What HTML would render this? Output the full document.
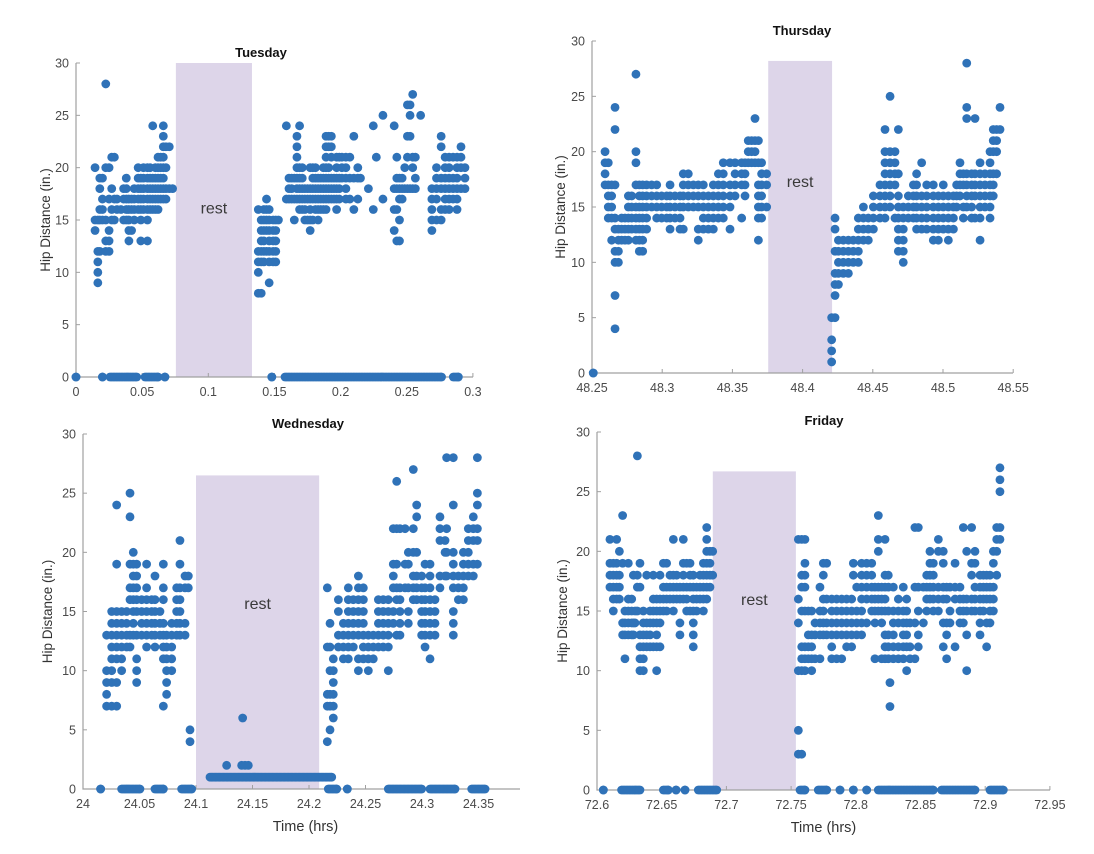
<!DOCTYPE html>
<html><head><meta charset="utf-8"><style>
html,body{margin:0;padding:0;background:#fff;}
svg{display:block;font-family:"Liberation Sans",Arial,sans-serif;}
</style></head><body>
<svg id="chart" width="1094" height="854" viewBox="0 0 1094 854" xmlns="http://www.w3.org/2000/svg"></svg>
<script>
// ===== Tuesday data =====
const tueTimes=[0.0144,0.0165,0.018,0.020,0.0225,0.025,0.027,0.029,0.031,0.034,0.036,0.038,0.040,0.042,0.044,0.047,0.049,0.051,0.054,0.056,0.058,0.060,0.062,0.064,0.066,0.068,0.0705,0.073,
0.1378,0.140,0.142,0.144,0.146,0.149,0.151,0.153,0.159,0.161,0.163,0.165,0.167,0.169,0.171,0.173,0.175,0.177,0.179,0.181,0.183,0.185,0.187,0.189,0.191,0.193,0.195,0.197,0.199,0.201,0.204,0.207,0.210,0.213,0.215,0.221,0.2247,0.227,0.232,0.2405,0.2425,0.2445,0.2465,0.2485,0.2505,0.2525,0.2545,0.2565,0.2605,0.269,0.2725,0.276,0.279,0.282,0.285,0.288,0.291,0.294];
const tueValues=[[20,15,14],[15,11,10,9,12],[19,18,16,15,12],[19,17,16,15],[28,20,15,13,12],[20,17,14,13,12],[18,16,15,21],[21,17,15],[17,16],[16],[18,17,15],[19,18,17,16,15],[17,16,15,14,13],[17,16,14],[18,17,16,15],[20,19,18,17,16],[19,18,17,16,15,13],[20,19,18,17,16],[20,19,18,17,16,15,13],[20,19,18,17,16],[24,19,18,17,16],[20,19,18,17,16],[21,20,19,18,17,16],[21,20,19,18,17],[24,23,22,21,20,19,18,17],[22,20,18,17],[22,18],[18],
[16,12,11,10,8],[15,14,13,12,11,8],[16,15,14,13,12,11],[17,16,15,14,12],[16,15,14,13,12,11,9],[15,14,13,12,11],[15,14,13,12,11],[15],[24,17],[19,18,17],[19,18,17],[19,17,15],[23,22,21,20,19,18,17],[24,20,19,18,17,16],[20,19,18,17,16],[18,17,16,15],[18,17,15],[20,18,17,16,15,14],[20,19,18,17,15],[20,19,18,17,16],[19,18,17,16,15],[19,18,17,16],[20,19,18,17,16],[23,22,21,20,19,18,17,16],[23,22,20,19,18,17],[23,22,21,19,18,17],[19,18,17],[21,20,19,18,17,16],[21,19,18,17],[21,20,19],[21,20,19,18,17],[21,19,17],[23,19,16],[20,19,17],[19],[18],[24,16],[21],[25,17],[24,18,16,14],[21,19,18,16,13],[19,18,17,15,13],[19,18,17],[20,18],[26,23,21,18],[26,25,23,18],[27,21,20,18],[21,19,18],[25],[18,17,16,15,14],[20,19,18,17,15],[23,22,19,18,16,15],[21,20,19,18,17,16],[21,20,19,18,17,16],[21,19,18,17],[21,20,19,18,17,16],[22,21,20,18],[20,19,18]];
const tueZeroStarts=[0.0,0.020,0.0257,0.0522,0.0672,0.148,0.158,0.2852];
const tueZeroEnds=[0.0,0.020,0.0459,0.0620,0.0672,0.148,0.2763,0.289];

// ===== Thursday data =====
const thuTimes=[48.2593,48.2616,48.2640,48.2664,48.2688,48.2711,48.2735,48.2759,48.2783,48.2813,48.2837,48.2861,48.2889,48.2925,48.2961,48.2996,48.3032,48.3056,48.3091,48.3127,48.3150,48.3186,48.3222,48.3257,48.3293,48.3329,48.3364,48.3400,48.3435,48.3483,48.3519,48.3566,48.3590,48.3613,48.3637,48.3661,48.3685,48.3708,48.3744,
48.4207,48.4231,48.4255,48.4290,48.4326,48.4361,48.4397,48.4433,48.4468,48.4504,48.4551,48.4587,48.4623,48.4658,48.4682,48.4717,48.4753,48.4789,48.4812,48.4848,48.4884,48.4931,48.4967,48.5002,48.5038,48.5074,48.5097,48.5121,48.5145,48.5169,48.5204,48.5228,48.5264,48.5299,48.5335,48.5358,48.5382,48.5406];
const thuValues=[[20,19,18,17],[19,17,16,15,14],[17,16,15,14,12],[24,22,17,14,13,11,10,7,4],[13,12,11,10],[14,13,12],[14,13,12],[16,15,14,13,12],[16,15,14,13],[27,20,19,17,15,14,13,12],[17,16,15,14,13,12,11],[17,16,15,14,13,12,11],[17,16,15,14,13],[17,16,15],[17,16,15,14],[16,15,14],[16,15,14],[17,16,15,14,13],[16,15,14],[16,15,14,13],[18,17,16,15,13],[18,17,16,15],[17,16,15],[17,16,15,13,12],[17,16,15,14,13],[16,15,14,13],[17,16,15,14,13],[18,17,16,15,14],[19,18,17,16,15,14],[19,17,16,15,13],[19,18,17,16],[19,18,17,14],[19,18,17,16],[21,20,19],[21,20,19],[23,21,20,19],[21,19,17,16,15,14,12],[19,18,17,16,15,14],[18,17,15],
[5,3,2,1],[14,13,11,9,8,7,5],[12,11,10,9,8],[12,11,10,9],[12,11,10,9],[12,11,10],[14,13,12,11,10],[15,14,13,12],[14,13,12],[16,15,14,13],[17,16,15,14],[22,20,19,18,17,16,15,14],[25,20,19,18,17,16,15],[20,19,18,17,14],[22,18,16,15,14,13,12,11],[15,14,13,12,11,10],[16,15,14],[17,16,15,14],[18,17,16,15,14,13],[19,16,15,14,13],[17,16,15,14,13],[17,16,15,14,13,12],[16,15,14,13,12],[17,16,15,14,13],[16,15,14,13,12],[16,15,14,13],[17,16,15],[19,18,17,16],[18,17,15,14],[28,24,23,18,17,16,15],[18,17,16,15,14],[23,18,17,16,14],[19,18,17,16,15,14,12],[18,17,16,15],[20,19,18,17,16,15,14],[22,21,20,18,17,16],[22,21,20,18],[24,22]];
const thuZeroStarts=[48.2509];
const thuZeroEnds=[48.2509];

// ===== Wednesday data =====
const wedTimes=[24.0209,24.0254,24.0298,24.0342,24.0386,24.0416,24.0445,24.0475,24.0519,24.0563,24.0608,24.0637,24.0681,24.0711,24.0740,24.0785,24.0829,24.0858,24.0903,24.0932,24.0947,
24.1271,24.1404,24.1413,24.1434,24.1463,
24.2162,24.2186,24.2215,24.2260,24.2304,24.2348,24.2392,24.2437,24.2481,24.2525,24.2569,24.2614,24.2658,24.2702,24.2746,24.2776,24.2805,24.2850,24.2879,24.2923,24.2953,24.2997,24.3027,24.3071,24.3115,24.3159,24.3204,24.3218,24.3277,24.3322,24.3366,24.3410,24.3454,24.3490];
const wedValues=[[13,10,9,8,7],[15,14,13,12,11,10,9,7],[24,19,15,14,13,12,11,9,7],[15,14,13,12,11,10],[15,14,13,12],[25,23,19,17,16,13,12],[20,19,18,17,16,15,14,13],[19,18,17,16,15,13,11,10,9],[16,15,14,13],[19,17,16,15,14,13,12],[16,15,14,13],[18,16,15,14,13,12],[15,14,13],[19,17,16,14,13,12,11,7],[13,12,11,10,9,8],[14,13,12,11,10],[17,16,15,14,13],[21,19,17,16,15,14,13],[18,17,14,13],[18,17],[5,4],
[2],[2],[6],[2],[2],
[17,12,8,7,4],[14,12,10,8,7,5],[11,10,9,8,7,6],[16,15,13,12],[14,13,12,11],[17,16,15,14,13,12,11],[16,15,14,13,12],[18,17,16,15,14,13,11,10],[17,16,15,14,13,12,11],[13,12,11,10],[13,12,11],[16,15,14,13,12],[16,15,14,13,12],[16,15,14,13,12,10],[22,19,18,17,15,14],[26,22,19,17,16,13],[22,17,16,15,14,13],[22,19,17],[20,19,17,15,14],[27,22,20,18,17,16],[24,23,20,18,17,16],[18,17,16,15,14,13],[19,17,16,15,14,12,13],[19,18,17,16,15,14,13,11],[16,15,14,13],[23,22,21,18,17],[21,20,18],[28,22,20,18],[28,24,20,19,18,17,15,14,13],[18,17,16],[20,19,18,17,16],[22,21,20,19,18],[23,22,21,19,18],[28,25,24,22,21,19]];
const wedOneStarts=[24.1124];
const wedOneEnds=[24.2201];
const wedZeroStarts=[24.0156,24.0342,24.0637,24.0873,24.2171,24.2339,24.2702,24.3071,24.3440];
const wedZeroEnds=[24.0156,24.0504,24.0711,24.0962,24.2245,24.2339,24.2997,24.3292,24.3558];

// ===== Friday data =====
const friTimes=[72.6100,72.6126,72.6152,72.6173,72.6198,72.6216,72.6242,72.6268,72.6281,72.6294,72.6312,72.6332,72.6358,72.6384,72.6410,72.6435,72.6461,72.6487,72.6513,72.6538,72.6564,72.6590,72.6616,72.6641,72.6667,72.6693,72.6719,72.6744,72.6770,72.6796,72.6822,72.6848,72.6873,72.6894,
72.7556,72.7582,72.7607,72.7633,72.7659,72.7685,72.7723,72.7749,72.7775,72.7814,72.7852,72.7891,72.7929,72.7968,72.7981,72.8007,72.8045,72.8084,72.8123,72.8148,72.8174,72.8200,72.8226,72.8251,72.8264,72.8290,72.8329,72.8367,72.8393,72.8419,72.8457,72.8483,72.8522,72.8548,72.8573,72.8599,72.8638,72.8676,72.8702,72.8728,72.8767,72.8805,72.8831,72.8857,72.8895,72.8921,72.8960,72.8986,72.9011,72.9037,72.9063,72.9089,72.9114];
const friValues=[[21,19,18,17],[19,18,17,16,15],[21,19,18,17,16],[20,18,17,16],[23,19,14,13],[15,14,13,11],[19,16,15,14,13],[16,15,14,13],[18,14,13],[15,14],[28,18,17,15],[19,17,13,12,11,10],[15,14,13,12,11,10],[18,14,13,12],[15,14,13,12],[18,16,15,14,12],[16,15,14,13,12,10],[18,16,15,14,12],[19,17,16,15],[19,17,16,15],[18,17,16],[21,18,17,16,15],[18,17,16],[17,16,14,13],[21,19,18,17,16],[19,17,16,15],[19,18,17,15],[18,17,16,15,14,13,12],[17,16,15],[18,17,16],[19,18,17,16,15],[22,21,20,19,18,17,16],[20,19,18,17],[20,18],
[21,16,14,10,5,3],[21,18,17,15,12,11,10,3],[21,19,18,17,15,12,11,10],[15,13,12,11],[15,13,12,11,10],[14,13,11],[17,15,14,13,11],[19,18,16,15,14,13],[19,16,14,13],[16,15,14,13,12,11],[16,15,14,13,11],[16,15,14,13,11],[16,15,14,13,12],[16,15,14,13,12],[19,18],[17,15,14,13],[19,18,17,16,15,14,13],[19,18,17,16,14],[19,18,17,16,15],[17,16,15,14,11],[23,21,20,17,16,15],[17,16,15,14,11],[21,18,17,16,15,13,12,11],[18,17,15,13,12,11],[9,7],[17,15,14,13,12,11],[16,15,14,12,11],[17,15,14,13,12,11],[16,15,14,13,12,10],[14,12,11],[22,17,14,11],[22,17,15,13,12],[17,14],[18,17,16,15],[20,19,18,17,16],[19,18,17,16,15],[21,20,17,16,15],[20,19,17,16,14,12],[17,16,14,13,11],[17,15,14],[19,17,16,12],[17,16,15,14],[22,16,15,14],[20,16,15,13,10],[22,19,18,16,15],[20,19,17,16,15],[18,17,16,15,14,13],[18,17,16,15],[18,17,16,14,12],[18,17,16,15,14],[20,19,17,16,15],[22,21,20,18],[27,26,25,22,21]];
const friZeroStarts=[72.6049,72.6190,72.6513,72.6611,72.6680,72.6783,72.7569,72.7710,72.7878,72.7981,72.8084,72.8174,72.8663,72.9037];
const friZeroEnds=[72.6049,72.6332,72.6551,72.6611,72.6680,72.6925,72.7607,72.7775,72.7878,72.7981,72.8084,72.8599,72.8921,72.9140];

// ===== Tick labels =====
const yTickLabels=["0","5","10","15","20","25","30"];
const tueXTicks=["0","0.05","0.1","0.15","0.2","0.25","0.3"];
const thuXTicks=["48.25","48.3","48.35","48.4","48.45","48.5","48.55"];
const wedXTicks=["24","24.05","24.1","24.15","24.2","24.25","24.3","24.35"];
const friXTicks=["72.6","72.65","72.7","72.75","72.8","72.85","72.9","72.95"];

const NS="http://www.w3.org/2000/svg";
const svg=document.getElementById('chart');
const DOT="#2f72b8";
function mk(tag,attrs,parent){const e=document.createElementNS(NS,tag);for(const k in attrs)e.setAttribute(k,attrs[k]);(parent||svg).appendChild(e);return e;}

function panel(c){
  const g=mk('g',{});
  
  
  const X=t=>c.px0+(t-c.t0)*c.pxPerHr;
  const Y=v=>c.py0-v*(c.py0-c.py30)/30;
  // rest band
  const r=mk('rect',{x:X(c.restStart),y:Y(c.restTop),width:X(c.restEnd)-X(c.restStart),height:Y(0)-Y(c.restTop),fill:"#ddd5e9"},g);
  
  
  const rt=mk('text',{x:(X(c.restStart)+X(c.restEnd))/2,y:Y(c.restLabelY),'font-size':16,fill:'#3a3a3a','text-anchor':'middle'},g);
  rt.textContent='rest';
  
  
  // axes
  const ax=mk('path',{d:`M${c.px0},${c.py30}V${c.py0}H${c.axisEnd}`,stroke:'#a0a0a0','stroke-width':1.2,fill:'none'},g);
  
  
  // y ticks
  yTickLabels.forEach((lab,i)=>{
    const y=Y(i*5);
    mk('line',{x1:c.px0,x2:c.px0+4,y1:y,y2:y,stroke:'#a0a0a0','stroke-width':1},g);
    const t=mk('text',{x:c.px0-7,y:y+4.5,'font-size':12.5,fill:'#4a4a4a','text-anchor':'end'},g);
    t.textContent=lab;
    
    
  });
  // x ticks
  c.xTicks.forEach((lab,i)=>{
    const x=X(c.t0+i*0.05);
    mk('line',{x1:x,x2:x,y1:c.py0,y2:c.py0-4,stroke:'#a0a0a0','stroke-width':1},g);
    const t=mk('text',{x:x,y:c.py0+19,'font-size':12.5,fill:'#4a4a4a','text-anchor':'middle'},g);
    t.textContent=lab;
    
    
  });
  // title
  const ti=mk('text',{x:c.titleX,y:c.titleY,'font-size':13,'font-weight':'bold',fill:'#111','text-anchor':'middle'},g);
  ti.textContent=c.title;
  
  
  const yl=mk('text',{x:0,y:0,'font-size':13.5,fill:'#333','text-anchor':'middle',transform:`translate(${c.ylX},${(c.py0+c.py30)/2}) rotate(-90)`},g);
  yl.textContent='Hip Distance (in.)';
  
  
  if(c.xlabel){
    const xl=mk('text',{x:(c.px0+c.axisEnd)/2+(c.xlShift||0),y:c.py0+42,'font-size':14.5,fill:'#333','text-anchor':'middle'},g);
    xl.textContent='Time (hrs)';
    
    
  }
  // points
  const pg=mk('g',{fill:DOT},g);
  
  
  function run(starts,ends,val){
    starts.forEach((s,i)=>{
      for(let t=s;t<=ends[i]+1e-9;t+=0.0012){
        const p=mk('circle',{cx:X(t),cy:Y(val),r:4.4},pg);
        
        
      }
      const p=mk('circle',{cx:X(ends[i]),cy:Y(val),r:4.4},pg);
      
      
    });
  }
  run(c.zs,c.ze,0);
  if(c.os)run(c.os,c.oe,1);
  c.times.forEach((t,i)=>{
    c.values[i].forEach(v=>{
      const p=mk('circle',{cx:X(t),cy:Y(v),r:4.4},pg);
      
      
    });
  });
}

panel({key:'tuesday',title:'Tuesday',titleX:261,titleY:57,t0:0,px0:76,pxPerHr:1323,axisEnd:473,py0:377,py30:63,
  restStart:0.0755,restEnd:0.133,restTop:30,restLabelY:15.6,xTicks:tueXTicks,ylX:50,
  times:tueTimes,values:tueValues,zs:tueZeroStarts,ze:tueZeroEnds});
panel({key:'thursday',title:'Thursday',titleX:802,titleY:35,t0:48.25,px0:592,pxPerHr:1404,axisEnd:1013,py0:373,py30:41,
  restStart:48.3755,restEnd:48.421,restTop:28.2,restLabelY:16.8,xTicks:thuXTicks,ylX:565,
  times:thuTimes,values:thuValues,zs:thuZeroStarts,ze:thuZeroEnds});
panel({key:'wednesday',title:'Wednesday',titleX:308,titleY:428,t0:24,px0:83,pxPerHr:1130,axisEnd:520,py0:789,py30:434,
  restStart:24.1,restEnd:24.209,restTop:26.5,restLabelY:15.2,xTicks:wedXTicks,ylX:52,xlabel:true,xlShift:4,
  times:wedTimes,values:wedValues,zs:wedZeroStarts,ze:wedZeroEnds,os:wedOneStarts,oe:wedOneEnds});
panel({key:'friday',title:'Friday',titleX:824,titleY:425,t0:72.6,px0:597,pxPerHr:1294,axisEnd:1050,py0:790,py30:432,
  restStart:72.6895,restEnd:72.7537,restTop:26.7,restLabelY:15.5,xTicks:friXTicks,ylX:567,xlabel:true,xlShift:0,
  times:friTimes,values:friValues,zs:friZeroStarts,ze:friZeroEnds});
</script>
</body></html>
